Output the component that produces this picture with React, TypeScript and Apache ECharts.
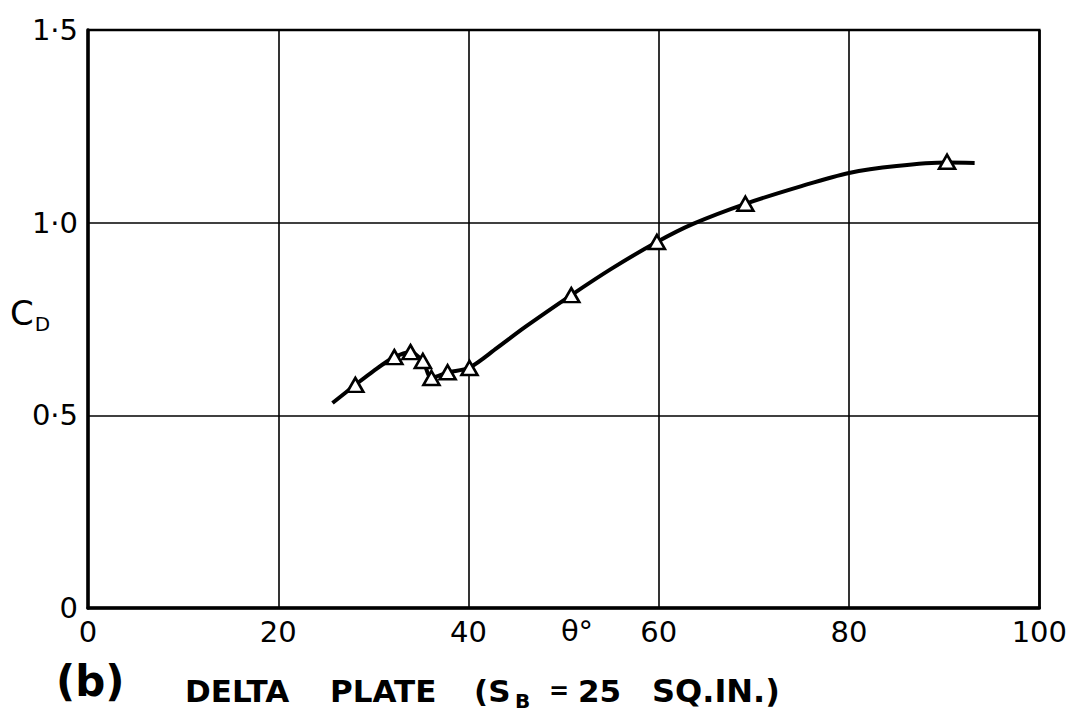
import React, { useEffect, useRef } from "react";
import * as echarts from "echarts";

// Measured points (theta in degrees, C_D)
const thetaPoints = [28.1, 32.2, 33.9, 35.2, 36.1, 37.8, 40.1, 50.8, 59.8, 69.1, 90.3];
const cdPoints = [0.579, 0.651, 0.664, 0.641, 0.597, 0.612, 0.623, 0.812, 0.95, 1.049, 1.158];

// Faired curve
const curveTheta = [25.7, 28.1, 30, 32.2, 33.9, 35.2, 36.1, 37.8, 40.1, 43, 46, 50.8, 55, 59.8, 63.6, 69.1, 75, 80, 85, 90.3, 93.2];
const curveCd = [0.532, 0.579, 0.615, 0.651, 0.664, 0.64, 0.598, 0.611, 0.624, 0.675, 0.73, 0.812, 0.88, 0.95, 0.997, 1.049, 1.095, 1.129, 1.147, 1.156, 1.155];

const xTicks = [0, 20, 40, 60, 80, 100];
const yTicks = [0, 0.5, 1.0, 1.5];

const FONT = "DejaVu Sans";

const captionParts = [
  { text: "DELTA", x: 185, size: 31 },
  { text: "PLATE", x: 330, size: 31 },
  { text: "(S", x: 474, size: 31 },
  { text: "=", x: 549, size: 24 },
  { text: "25", x: 578, size: 31 },
  { text: "SQ.IN.)", x: 652, size: 32 },
];

export default function App() {
  const ref = useRef<HTMLDivElement>(null);

  useEffect(() => {
    if (!ref.current) return;
    const chart = echarts.init(ref.current, undefined, { renderer: "svg" });
    const pts = thetaPoints.map((t, i) => [t, cdPoints[i]]);
    const curve = curveTheta.map((t, i) => [t, curveCd[i]]);
    chart.setOption({
      animation: false,
      backgroundColor: "#ffffff",
      grid: {
        left: 88,
        right: 20,
        top: 30,
        bottom: 108,
        show: true,
        borderColor: "#000",
        borderWidth: 2.5,
        containLabel: false,
      },
      xAxis: {
        type: "value",
        min: xTicks[0],
        max: xTicks[xTicks.length - 1],
        interval: 20,
        axisLine: { show: true, lineStyle: { color: "#000", width: 3.5 } },
        axisTick: { show: false },
        axisLabel: {
          fontFamily: FONT,
          fontSize: 29,
          color: "#000",
          margin: 9,
        },
        splitLine: { show: true, lineStyle: { color: "#000", width: 1.6 } },
      },
      yAxis: {
        type: "value",
        min: yTicks[0],
        max: yTicks[yTicks.length - 1],
        interval: 0.5,
        axisLine: { show: true, lineStyle: { color: "#000", width: 3.5 } },
        axisTick: { show: false },
        axisLabel: {
          fontFamily: FONT,
          fontSize: 29,
          color: "#000",
          margin: 10,
          formatter: (v: number) => (v === 0 ? "0" : v.toFixed(1).replace(".", "·")),
        },
        splitLine: { show: true, lineStyle: { color: "#000", width: 1.6 } },
      },
      series: [
        {
          type: "line",
          data: curve,
          smooth: 0.3,
          showSymbol: false,
          symbol: "none",
          lineStyle: { color: "#000", width: 4 },
          z: 2,
        },
        {
          type: "scatter",
          data: pts,
          symbol: "triangle",
          symbolSize: [16, 14],
          itemStyle: { color: "#fff", borderColor: "#000", borderWidth: 2.6, opacity: 1 },
          z: 3,
        },
      ],
      graphic: [
        {
          type: "text",
          x: 577,
          y: 631,
          style: {
            text: "θ°",
            fontFamily: FONT,
            fontSize: 29,
            fill: "#000",
            align: "center",
            verticalAlign: "middle",
          },
        },
        {
          type: "text",
          left: 10,
          top: 292,
          style: {
            text: "{c|C}{d|D}",
            rich: {
              c: { fontFamily: FONT, fontSize: 34, fill: "#000", verticalAlign: "top", lineHeight: 34 },
              d: { fontFamily: FONT, fontSize: 20, fill: "#000", padding: [22, 0, 0, 1], lineHeight: 20 },
            },
          },
        },
        {
          type: "text",
          left: 56,
          top: 660,
          style: {
            text: "(b)",
            fontFamily: FONT,
            fontSize: 42,
            fontWeight: "bold",
            fill: "#000",
          },
        },
        ...captionParts.map((p) => ({
          type: "text",
          x: p.x,
          y: 691,
          style: {
            fontFamily: FONT,
            fontSize: p.size,
            fontWeight: "bold",
            fill: "#000",
            text: p.text,
            verticalAlign: "middle",
          },
        })),
        {
          type: "text",
          x: 515,
          y: 701,
          style: { fontFamily: FONT, fontSize: 20, fontWeight: "bold", fill: "#000", text: "B", verticalAlign: "middle" },
        },
      ],
    });
    return () => chart.dispose();
  }, []);

  return (
    <div
      ref={ref}
      style={{ position: "fixed", left: 0, top: 0, width: 1070, height: 716, background: "#fff" }}
    />
  );
}
